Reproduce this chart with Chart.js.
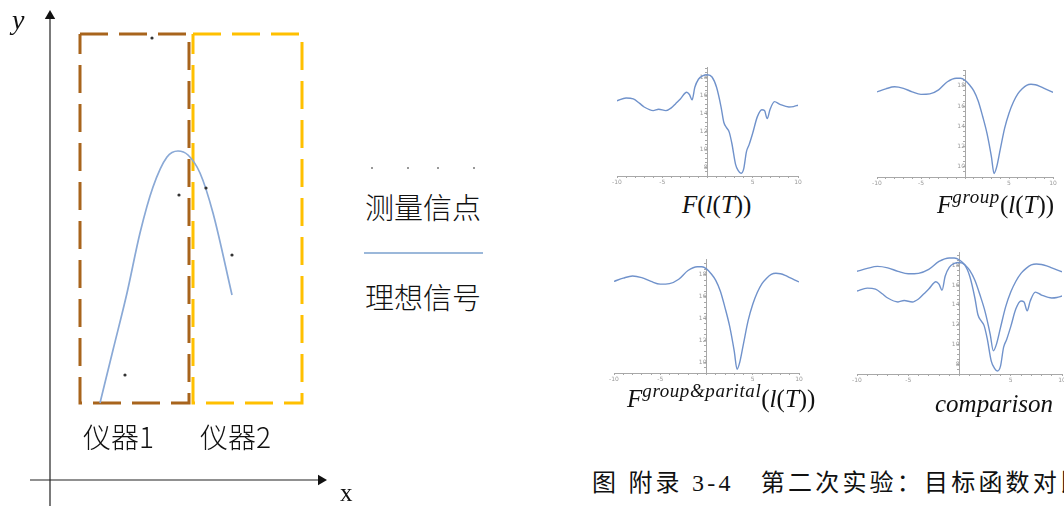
<!DOCTYPE html>
<html>
<head>
<meta charset="utf-8">
<script src="https://cdn.jsdelivr.net/npm/chart.js@4.4.0/dist/chart.umd.min.js"></script>
<style>
  html, body { margin: 0; padding: 0; background: #fff; width: 1064px; height: 506px; overflow: hidden; }
  body { position: relative; font-family: "Noto Sans CJK SC", sans-serif; color: #222; }
  canvas { position: absolute; }
  .txt { position: absolute; white-space: nowrap; line-height: 1; }
  .cjk { font-size: 28px; font-weight: 300; color: #111; }
  .math { font-family: "Liberation Serif", serif; font-size: 25px; color: #111; }
  .math i { font-style: italic; }
  .math sup { font-size: 19px; font-style: italic; letter-spacing: 0.6px; vertical-align: 10px; line-height: 0; }
  .dot { position: absolute; width: 2px; height: 2px; border-radius: 1px; background: #777; }
</style>
</head>
<body>
<canvas id="schematic" width="360" height="506" style="left:0;top:0"></canvas>

<div class="txt" style="left:12px;top:6px;font-family:'Liberation Serif',serif;font-style:italic;font-size:28px;color:#111">y</div>
<div class="txt" style="left:340px;top:480px;font-family:'Liberation Serif',serif;font-size:25px;color:#111">x</div>
<div class="txt cjk" style="left:83px;top:422px">仪器1</div>
<div class="txt cjk" style="left:200px;top:422px">仪器2</div>

<!-- legend -->
<div class="dot" style="left:371px;top:167px"></div>
<div class="dot" style="left:407px;top:167px"></div>
<div class="dot" style="left:437px;top:167px"></div>
<div class="dot" style="left:473px;top:167px"></div>
<div class="txt cjk" style="left:365px;top:192px;font-size:29px">测量信点</div>
<div style="position:absolute;left:364px;top:252px;width:119px;height:1.5px;background:#9bb8da"></div>
<div class="txt cjk" style="left:365px;top:282px;font-size:29px">理想信号</div>

<canvas id="plotF" width="201" height="125" style="left:607px;top:63px"></canvas>
<canvas id="plotGroup" width="196" height="123" style="left:867px;top:66px"></canvas>
<canvas id="plotPartial" width="205" height="130" style="left:604px;top:255px"></canvas>
<canvas id="plotCompare" width="225" height="138" style="left:847px;top:248px"></canvas>

<div class="txt math" style="left:682px;top:192px"><i>F</i>(<i>l</i>(<i>T</i>))</div>
<div class="txt math" style="left:937px;top:192px"><i>F</i><sup>group</sup>(<i>l</i>(<i>T</i>))</div>
<div class="txt math" style="left:627px;top:386px"><i>F</i><sup>group&amp;parital</sup>(<i>l</i>(<i>T</i>))</div>
<div class="txt math" style="left:935px;top:391px"><i>comparison</i></div>

<div class="txt" style="left:592px;top:471px;font-family:'Liberation Serif','Noto Sans CJK SC',serif;font-size:24px;letter-spacing:3.2px;color:#111">图 附录 3-4　第二次实验：目标函数对比</div>

<script>
// ---- schematic: axes origin at the crossing point, units in px ----
const idealX = [50, 63, 77, 90, 103, 117, 128, 138, 150, 163, 182];
const idealY = [77, 130, 187, 247, 293, 323, 329, 325, 307, 267, 185];

const measuredX = [75, 102, 129, 156, 182];
const measuredY = [105, 442, 285, 292, 225];

// instrument windows [left, right] x [bottom, top]
const window1X = [30, 139];
const window1Y = [77, 446];
const window2X = [143, 252];
const window2Y = [77, 446];

// ---- objective function samples, T in [-10, 10] ----
const fX = [-10, -9, -8.2, -7.5, -7, -6, -5.4, -4.6, -4, -3.5, -3, -2.3, -2, -1.7, -1.4, -1, -0.5, 0, 0.5, 1,
            1.5, 1.8, 2.1, 2.4, 2.7, 3.1, 3.4, 3.7, 4, 4.3, 4.6, 5, 5.5, 6, 6.3, 6.6, 6.9, 7.4, 8, 9, 9.5, 10];
const fY = [15.4, 15.7, 15.6, 15.1, 14.7, 14.3, 14.45, 14.3, 14.6, 15.1, 15.6, 16.35, 16.1, 15.5, 16.9, 17.8, 18.2, 18.3, 18.05, 16.9,
            14.7, 13.0, 12.4, 11.9, 10.6, 8.3, 7.6, 7.3, 7.8, 9.7, 10.5, 11.8, 13.6, 14.4, 14.3, 13.4, 14.4, 15.3, 15.0, 14.7, 14.75, 14.9];

const groupX = [-10, -9, -8, -7, -6, -5, -4, -3, -2, -1, -0.5, 0, 0.5, 1, 1.5, 2, 2.5, 3, 3.3, 3.6, 4,
                4.5, 5, 5.5, 6, 6.5, 7, 7.5, 8, 8.5, 9, 9.5, 10];
const groupY = [17.4, 17.7, 17.9, 17.75, 17.4, 17.15, 17.2, 17.6, 18.4, 18.75, 18.75, 18.55, 18.1, 17.5, 16.5, 15.0, 13.3, 11.0, 9.35, 10.0, 11.7,
                13.8, 15.3, 16.4, 17.2, 17.7, 18.05, 18.15, 18.1, 17.95, 17.75, 17.55, 17.35];

const xTicks = [-10, -9, -8, -7, -6, -5, -4, -3, -2, -1, 0, 1, 2, 3, 4, 5, 6, 7, 8, 9, 10];
const xTickLabels = [-10, -5, 5, 10];
const yTickLabels = [8, 10, 12, 14, 16, 18];

const BROWN = '#a8641c';
const GOLD = '#ffc000';
const IDEAL = '#8aa9d6';
const CURVE = '#7092cb';
const AXIS = '#a8a8a8';

function pts(xs, ys) {
  return xs.map((x, i) => ({ x: x, y: ys[i] }));
}

function boxPath(xs, ys) {
  // closed rectangle, starting at the top-left corner
  return [
    { x: xs[0], y: ys[1] }, { x: xs[1], y: ys[1] },
    { x: xs[1], y: ys[0] }, { x: xs[0], y: ys[0] },
    { x: xs[0], y: ys[1] }
  ];
}

new Chart(document.getElementById('schematic'), {
  type: 'scatter',
  data: {
    datasets: [
      {
        data: pts(measuredX, measuredY),
        pointRadius: 1.6, pointBackgroundColor: '#333', pointBorderWidth: 0
      },
      {
        data: pts(idealX, idealY),
        showLine: true, borderColor: IDEAL, borderWidth: 1.7,
        cubicInterpolationMode: 'monotone', pointRadius: 0
      },
      {
        data: boxPath(window1X, window1Y),
        showLine: true, borderColor: BROWN, borderWidth: 3, borderDash: [28, 11],
        borderCapStyle: 'butt', pointRadius: 0
      },
      {
        data: boxPath(window2X, window2Y),
        showLine: true, borderColor: GOLD, borderWidth: 3, borderDash: [28, 11],
        borderCapStyle: 'butt', pointRadius: 0
      },
      // arrow heads
      {
        data: [{ x: 271, y: 0 }],
        pointStyle: 'triangle', rotation: 90, pointRadius: 6,
        pointBackgroundColor: '#111', pointBorderWidth: 0
      },
      {
        data: [{ x: 0, y: 464 }],
        pointStyle: 'triangle', rotation: 0, pointRadius: 6,
        pointBackgroundColor: '#111', pointBorderWidth: 0
      },
      // axes
      {
        data: [{ x: -20, y: 0 }, { x: 268, y: 0 }],
        showLine: true, borderColor: '#222', borderWidth: 1.2, pointRadius: 0
      },
      {
        data: [{ x: 0, y: -26 }, { x: 0, y: 461 }],
        showLine: true, borderColor: '#222', borderWidth: 1.2, pointRadius: 0
      }
    ]
  },
  options: {
    responsive: false,
    animation: false,
    layout: { autoPadding: false, padding: 0 },
    plugins: { legend: { display: false }, tooltip: { enabled: false } },
    scales: {
      x: { type: 'linear', display: false, min: -50, max: 310 },
      y: { type: 'linear', display: false, min: -26, max: 480 }
    }
  }
});

function smallPlot(id, series, yMin, yMax) {
  const yTicks = [];
  for (let v = Math.ceil(yMin * 2) / 2; v <= yMax; v += 0.5) yTicks.push(v);
  return new Chart(document.getElementById(id), {
    type: 'line',
    data: {
      datasets: series.map(s => ({
        data: pts(s[0], s[1]),
        borderColor: CURVE, borderWidth: 1.4, pointRadius: 0,
        cubicInterpolationMode: 'monotone', fill: false
      }))
    },
    options: {
      responsive: false,
      animation: false,
      layout: { autoPadding: false, padding: { left: 10, right: 10, top: 4, bottom: 0 } },
      plugins: { legend: { display: false }, tooltip: { enabled: false } },
      scales: {
        x: {
          type: 'linear', min: -10, max: 10,
          afterBuildTicks: s => { s.ticks = xTicks.map(v => ({ value: v })); },
          afterFit: s => { s.height = 12; },
          grid: { drawOnChartArea: false, tickLength: 2, color: AXIS },
          border: { color: AXIS, width: 1 },
          ticks: {
            autoSkip: false, maxRotation: 0, padding: 1, color: '#9a9a9a',
            font: { family: 'DejaVu Sans', size: 6 },
            callback: v => xTickLabels.includes(v) ? String(v) : ''
          }
        },
        y: {
          type: 'linear', min: yMin, max: yMax, position: { x: 0 },
          afterBuildTicks: s => { s.ticks = yTicks.map(v => ({ value: v })); },
          grid: { drawOnChartArea: false, tickLength: 2, color: AXIS },
          border: { color: AXIS, width: 1 },
          ticks: {
            autoSkip: false, padding: 1, color: '#9a9a9a',
            font: { family: 'DejaVu Sans', size: 6 },
            callback: v => yTickLabels.includes(v) ? String(v) : ''
          }
        }
      }
    }
  });
}

smallPlot('plotF', [[fX, fY]], 7, 19.1);
smallPlot('plotGroup', [[groupX, groupY]], 9, 19.5);
smallPlot('plotPartial', [[groupX, groupY]], 9, 19.4);
smallPlot('plotCompare', [[groupX, groupY], [fX, fY]], 7, 19.3);
</script>
</body>
</html>
